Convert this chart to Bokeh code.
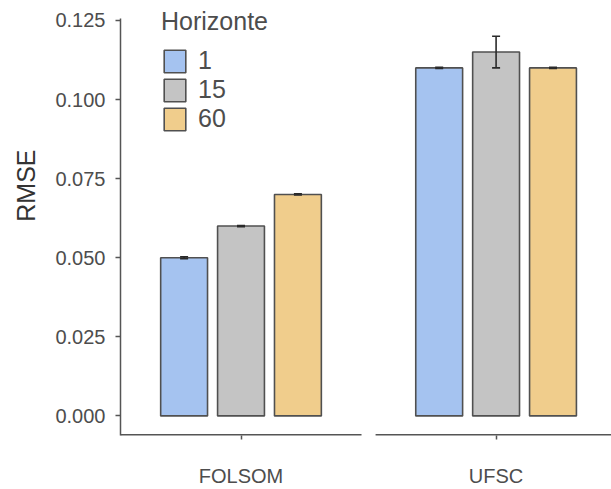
from bokeh.plotting import figure
from bokeh.models import (Range1d, FixedTicker, NumeralTickFormatter, ColumnDataSource,
                          Whisker, TeeHead, Legend, LegendItem, Title)
from bokeh.embed import file_html
from bokeh.resources import INLINE

# ---- data ----
sites = ["FOLSOM", "UFSC"]
horizons = ["1", "15", "60"]
rmse_folsom = [0.050, 0.060, 0.070]
rmse_ufsc = [0.110, 0.115, 0.110]
sd_folsom = [0.0003, 0.0002, 0.0002]
sd_ufsc = [0.0002, 0.005, 0.0002]
y_ticks = [0.000, 0.025, 0.050, 0.075, 0.100, 0.125]
colors = ["#A5C3F0", "#C4C4C4", "#F0CD8C"]

# ---- layout constants (ggplot-like facets) ----
PANEL = 1.2          # each facet spans 0.4..1.6 in its own units
GAP = 0.07           # panel spacing
DODGE = 0.85
BARW = 0.7 / 3
W, H = 611, 489
LEFT, TOP, BOTTOM = 118, 0, 52
FRAME_W = W - LEFT
px_per_unit = 242 / PANEL
x_start = 0.4
x_end = x_start + FRAME_W / px_per_unit
y_lo, y_hi = -0.0062, 0.1313
y_axis_top = 0.1256

centers = [1 + i * (PANEL + GAP) for i in range(len(sites))]
values = [rmse_folsom, rmse_ufsc]
sds = [sd_folsom, sd_ufsc]

p = figure(width=W, height=H, x_range=Range1d(x_start, x_end),
           y_range=Range1d(y_lo, y_hi), output_backend="svg", toolbar_location=None,
           min_border_left=LEFT, min_border_right=0, min_border_top=TOP, min_border_bottom=BOTTOM)
p.xgrid.visible = False
p.ygrid.visible = False
p.outline_line_color = None
p.background_fill_color = "white"

renderers = []
for j, h in enumerate(horizons):
    xs = [c + (j - 1) * DODGE / 3 for c in centers]
    tops = [values[i][j] for i in range(len(sites))]
    src = ColumnDataSource(dict(x=xs, top=tops,
                                lower=[values[i][j] - sds[i][j] for i in range(len(sites))],
                                upper=[values[i][j] + sds[i][j] for i in range(len(sites))]))
    r = p.vbar(x="x", top="top", bottom=0, width=BARW, source=src,
               fill_color=colors[j], line_color="#505050", line_width=1.6)
    renderers.append(r)
    w = Whisker(base="x", upper="upper", lower="lower", source=src, dimension="height",
                line_color="#2a2a2a", line_width=1.6, level="overlay",
                upper_head=TeeHead(size=8, line_color="#2a2a2a", line_width=1.6),
                lower_head=TeeHead(size=8, line_color="#2a2a2a", line_width=1.6))
    p.add_layout(w)

# broken x axis line (one per facet)
p.segment(x0=[c - PANEL / 2 for c in centers], x1=[c + PANEL / 2 for c in centers],
          y0=[y_lo] * len(centers), y1=[y_lo] * len(centers),
          line_color="#555555", line_width=3)

# y axis
ya = p.yaxis[0]
ya.bounds = (y_lo, y_axis_top)
ya.ticker = FixedTicker(ticks=y_ticks)
ya.formatter = NumeralTickFormatter(format="0.000")
ya.major_label_text_font = "Liberation Sans"
ya.major_label_text_font_size = "20px"
ya.major_label_text_color = "#4d4d4d"
ya.axis_line_color = "#555555"
ya.axis_line_width = 1.5
ya.major_tick_line_color = "#555555"
ya.major_tick_line_width = 1.5
ya.major_tick_out = 5
ya.major_tick_in = 0
ya.minor_tick_line_color = None
ya.major_label_standoff = 10

# x axis (facet labels)
xa = p.xaxis[0]
xa.ticker = FixedTicker(ticks=centers)
xa.major_label_overrides = {c: s for c, s in zip(centers, sites)}
xa.major_label_text_font = "Liberation Sans"
xa.major_label_text_font_size = "20px"
xa.major_label_text_color = "#4d4d4d"
xa.axis_line_color = None
xa.major_tick_line_color = "#555555"
xa.major_tick_line_width = 1.5
xa.major_tick_out = 4
xa.major_tick_in = 0
xa.minor_tick_line_color = None
xa.major_label_standoff = 25

# y axis title
t = Title(text="RMSE", align="right", vertical_align="top", offset=149,
          text_font="Liberation Sans", text_font_size="25px", text_font_style="normal",
          text_color="#333333", standoff=22)
p.add_layout(t, "left")

legend = Legend(items=[LegendItem(label=h, renderers=[r]) for h, r in zip(horizons, renderers)],
                title="Horizonte", location=(41, 302),
                glyph_width=27, glyph_height=28, label_height=28, spacing=0, padding=0, margin=0,
                border_line_color=None, background_fill_alpha=0,
                label_text_font="Liberation Sans", label_text_font_size="25px",
                label_text_color="#4d4d4d", label_standoff=10,
                title_text_font="Liberation Sans", title_text_font_size="25px",
                title_text_font_style="normal", title_text_color="#4d4d4d", title_standoff=10)
p.add_layout(legend)

open("out.html", "w").write(file_html(p, INLINE))
